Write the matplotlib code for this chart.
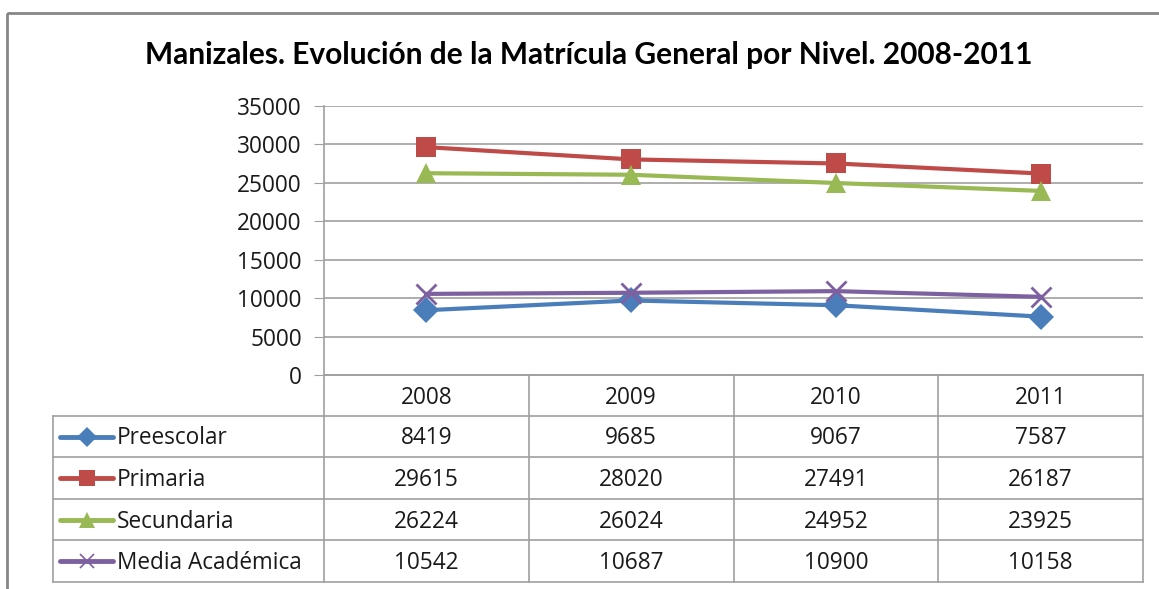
import matplotlib.pyplot as plt
from matplotlib.patches import Rectangle

plt.rcParams['font.family'] = ['Open Sans', 'DejaVu Sans']

years = ['2008', '2009', '2010', '2011']
series = ['Preescolar', 'Primaria', 'Secundaria', 'Media Académica']
preescolar = [8419, 9685, 9067, 7587]
primaria = [29615, 28020, 27491, 26187]
secundaria = [26224, 26024, 24952, 23925]
media = [10542, 10687, 10900, 10158]
values = [preescolar, primaria, secundaria, media]
colors = ['#4A7EBB', '#BE4B48', '#98B954', '#7D60A0']
markers = ['D', 's', '^', 'x']
msizes = [13, 15, 15, 14]

W, H = 1159, 589
FS = 16.3
fig = plt.figure(figsize=(W / 100, H / 100), dpi=100)

# overlay in pixel coordinates for frame, table and title
bg = fig.add_axes([0, 0, 1, 1])
bg.set_xlim(0, W)
bg.set_ylim(H, 0)
bg.axis('off')
bg.add_patch(Rectangle((7, 13), W, H, fill=False, ec='#868686', lw=2))
bg.text(589, 55, 'Manizales. Evolución de la Matrícula General por Nivel. 2008-2011',
        ha='center', va='center', fontsize=21.5, fontweight='bold', family='Lato')

# plot area
x0, x1 = 324, 1143
y_top, y_bot = 105.7, 375
ax = fig.add_axes([x0 / W, 1 - y_bot / H, (x1 - x0) / W, (y_bot - y_top) / H])
ax.set_facecolor('none')
ax.set_xlim(-0.5, len(years) - 0.5)
ax.set_ylim(0, 35000)
ax.set_yticks(range(0, 35001, 5000))
ax.set_xticks([])
ax.grid(axis='y', color='#A0A0A0', lw=1.2)
ax.set_axisbelow(True)
for s in ['top', 'right']:
    ax.spines[s].set_visible(False)
for s in ['left', 'bottom']:
    ax.spines[s].set_color('#A0A0A0')
    ax.spines[s].set_linewidth(1.2)
ax.tick_params(axis='y', length=7, color='#A0A0A0', labelsize=FS, pad=9)
for lab in ax.get_yticklabels():
    lab.set_color('#1A1A1A')

xs = range(len(years))
for vals, c, m, ms in zip(values, colors, markers, msizes):
    mew = 2 if m == 'x' else 0
    ax.plot(xs, vals, color=c, lw=3, marker=m, markersize=ms, mec=c, mew=mew,
            clip_on=False, zorder=3)

# data table
col_w = (x1 - x0) / len(years)
rows = [375, 416, 457, 499, 540, 582]
left = 53
gc = '#A0A0A0'
for k in range(len(years) + 1):
    bg.plot([x0 + k * col_w] * 2, [rows[0], rows[-1]], color=gc, lw=1.2)
bg.plot([left, left], [rows[1], rows[-1]], color=gc, lw=1.2)
for i, r in enumerate(rows):
    xl = x0 if i == 0 else left
    bg.plot([xl, x1], [r, r], color=gc, lw=1.2)

for j, yr in enumerate(years):
    bg.text(x0 + (j + 0.5) * col_w, (rows[0] + rows[1]) / 2 + 2, yr,
            ha='center', va='center', fontsize=FS, color='#1A1A1A')

for i, (name, vals, c, m, ms) in enumerate(zip(series, values, colors, markers, msizes)):
    yc = (rows[i + 1] + rows[i + 2]) / 2
    bg.plot([60, 113], [yc, yc], color=c, lw=3.5, solid_capstyle='round')
    mew = 1.2 if m == 'x' else 0
    bg.plot([86.5], [yc], marker=m, color=c, markersize=ms * 0.75, mec=c, mew=mew)
    bg.text(117, yc + 2, name, ha='left', va='center', fontsize=FS, color='#1A1A1A')
    for j, v in enumerate(vals):
        bg.text(x0 + (j + 0.5) * col_w, yc + 2, str(v),
                ha='center', va='center', fontsize=FS, color='#1A1A1A')

fig.savefig('out.png', dpi=100)
